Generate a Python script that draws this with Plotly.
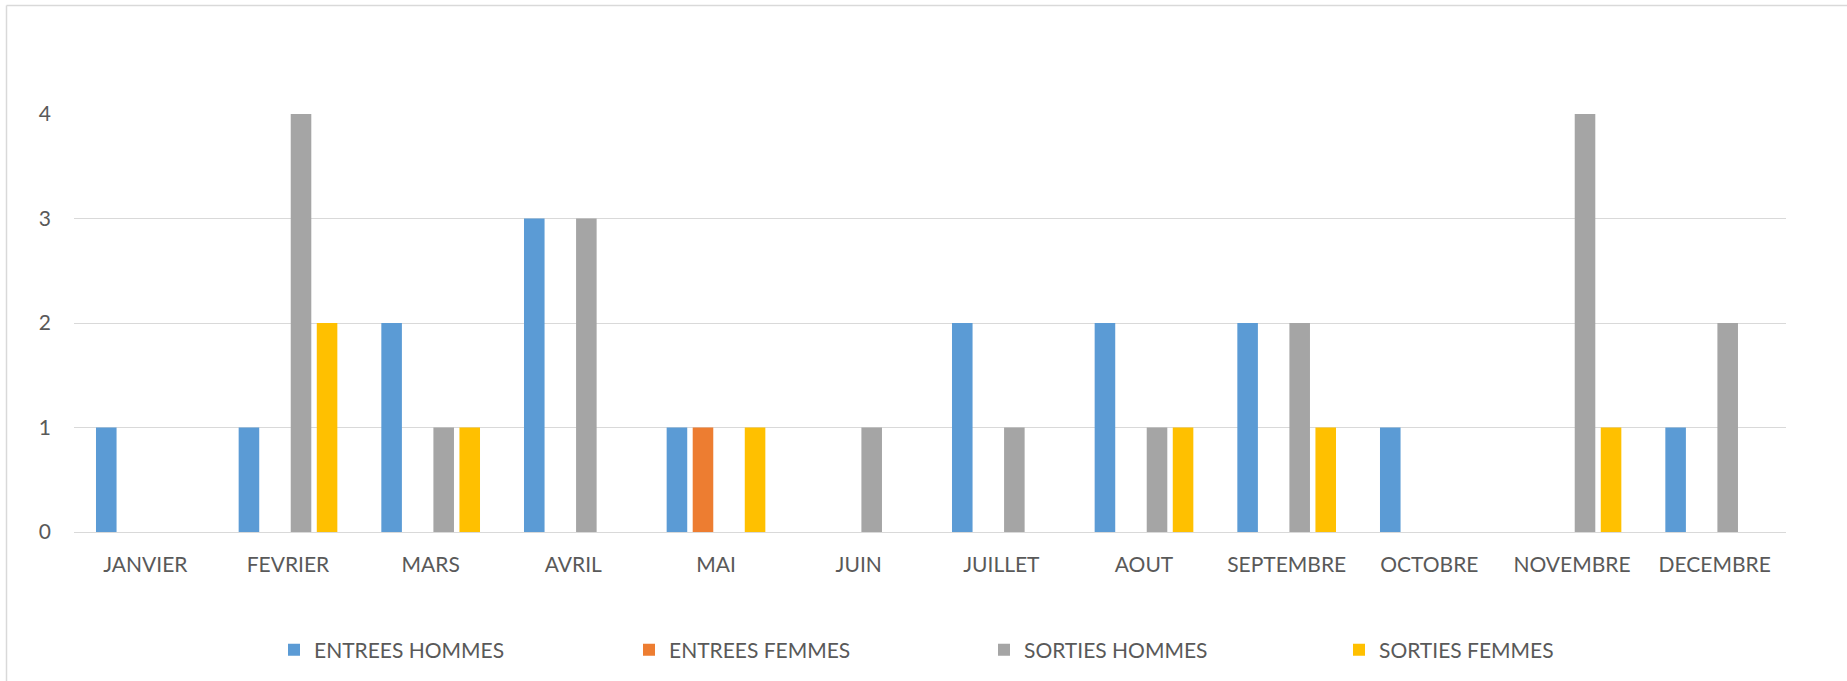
import plotly.graph_objects as go

months = ["JANVIER", "FEVRIER", "MARS", "AVRIL", "MAI", "JUIN", "JUILLET",
          "AOUT", "SEPTEMBRE", "OCTOBRE", "NOVEMBRE", "DECEMBRE"]
entrees_hommes = [1, 1, 2, 3, 1, 0, 2, 2, 2, 1, 0, 1]
entrees_femmes = [0, 0, 0, 0, 1, 0, 0, 0, 0, 0, 0, 0]
sorties_hommes = [0, 4, 1, 3, 0, 1, 1, 1, 2, 0, 4, 2]
sorties_femmes = [0, 2, 1, 0, 1, 0, 0, 1, 1, 0, 1, 0]
y_ticks = [0, 1, 2, 3, 4]

series = [
    ("ENTREES HOMMES", entrees_hommes, "#5B9BD5"),
    ("ENTREES FEMMES", entrees_femmes, "#ED7D31"),
    ("SORTIES HOMMES", sorties_hommes, "#A5A5A5"),
    ("SORTIES FEMMES", sorties_femmes, "#FFC000"),
]

W, H = 1847, 681
L, R, T, B = 74, W - 1786, 114, H - 532
pw, ph = W - L - R, H - T - B

def px(x):
    return (x - L) / pw

def py(y):
    return (H - B - y) / ph

FONT = "Lato"
TXT = "#595959"

fig = go.Figure()
for name, vals, col in series:
    fig.add_trace(go.Bar(x=months, y=vals, name=name,
                         marker=dict(color=col, line=dict(width=0))))

fig.update_layout(
    width=W, height=H,
    margin=dict(l=L, r=R, t=T, b=B, pad=0, autoexpand=False),
    paper_bgcolor="white", plot_bgcolor="white",
    barmode="group", bargap=0.27, bargroupgap=0.21,
    font=dict(family=FONT, size=21, color=TXT),
    showlegend=True,
    legend=dict(orientation="h", x=px(274), xanchor="left",
                y=py(650), yanchor="middle",
                entrywidth=310, entrywidthmode="pixels",
                font=dict(family=FONT, size=21, color=TXT),
                bgcolor="rgba(0,0,0,0)", itemclick=False),
    xaxis=dict(showgrid=False, showline=True, linecolor="#D9D9D9", linewidth=1,
               ticks="", tickfont=dict(family=FONT, size=21, color=TXT),
               ticklabelstandoff=14, fixedrange=True),
    yaxis=dict(range=[0, 4], tickvals=y_ticks, showgrid=True,
               gridcolor="#D9D9D9", gridwidth=1, zeroline=False,
               showline=False, ticks="",
               tickfont=dict(family=FONT, size=21, color=TXT),
               ticklabelstandoff=22, fixedrange=True),
    shapes=[
        dict(type="line", xref="paper", yref="paper",
             x0=px(6.5), x1=px(W + 10), y0=py(5.5), y1=py(5.5),
             line=dict(color="#D9D9D9", width=1.5)),
        dict(type="line", xref="paper", yref="paper",
             x0=px(6.5), x1=px(6.5), y0=py(5.5), y1=py(H + 10),
             line=dict(color="#D9D9D9", width=1.5)),
    ],
)

fig.write_html("out.html", config={"displayModeBar": False},
               post_script="document.body.style.margin='0';document.body.style.overflow='hidden';")
